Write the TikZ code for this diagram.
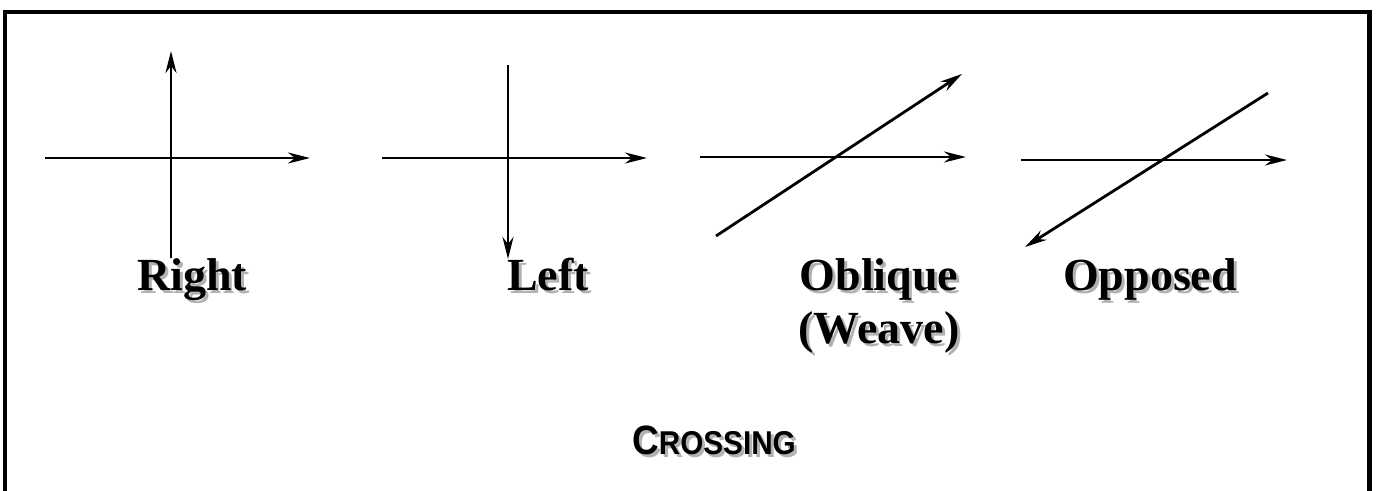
\documentclass[tikz,border=0pt]{standalone}
\usepackage{fontspec}
\setmainfont{Liberation Serif}
\setsansfont{Liberation Sans}
\usetikzlibrary{arrows.meta}
\tikzset{
  arr/.style={line width=2.8pt, -{Stealth[length=22pt,width=11pt,inset=7pt]}},
  lbl/.style={font=\fontsize{46}{53}\selectfont\bfseries, anchor=base, inner sep=0pt},
  lblsh/.style={lbl, text=black!30},
  captxt/.style={font=\sffamily\bfseries, anchor=base, inner sep=0pt},
  captxtsh/.style={captxt, text=black!30},
  frameline/.style={line width=4.5pt}
}
\newcommand{\capword}{\scalebox{0.9}[1]{{\fontsize{41}{42}\selectfont C}{\fontsize{33}{34}\selectfont ROSSING}}}
\begin{document}
\begin{tikzpicture}[x=1pt,y=-1pt]
\useasboundingbox (0,0) rectangle (1378,490);
% frame (open at bottom)
\draw[frameline] (5,500) -- (5,12) -- (1369.5,12) -- (1369.5,500);

% Right
\coordinate (r1) at (45,158); \coordinate (r2) at (310,158);
\coordinate (r3) at (171,258); \coordinate (r4) at (171,51);
\draw[arr] (r1) -- (r2);
\draw[arr] (r3) -- (r4);
% Left
\coordinate (l1) at (382,158); \coordinate (l2) at (647,158);
\coordinate (l3) at (508,65); \coordinate (l4) at (508,259);
\draw[arr] (l1) -- (l2);
\draw[arr] (l3) -- (l4);
% Oblique
\coordinate (o1) at (700,157); \coordinate (o2) at (966,157);
\coordinate (o3) at (716,236); \coordinate (o4) at (962,74);
\draw[arr] (o1) -- (o2);
\draw[arr] (o3) -- (o4);
% Opposed
\coordinate (p1) at (1021,160); \coordinate (p2) at (1287,160);
\coordinate (p3) at (1268,93); \coordinate (p4) at (1025,247);
\draw[arr] (p1) -- (p2);
\draw[arr] (p3) -- (p4);

% labels with shadow
\node[lblsh] (rightS) at (195,293) {Right};
\node[lbl] (right) at (192,290) {Right};
\node[lblsh] (leftS) at (551,293) {Left};
\node[lbl] (left) at (548,290) {Left};
\node[lblsh] (obliqueS) at (882,293) {Oblique};
\node[lbl] (oblique) at (879,290) {Oblique};
\node[lblsh] (weaveS) at (882,346) {(Weave)};
\node[lbl] (weave) at (879,343) {(Weave)};
\node[lblsh] (opposedS) at (1153,293) {Opposed};
\node[lbl] (opposed) at (1150,290) {Opposed};

\node[captxtsh] (crossingS) at (717,457) {\capword};
\node[captxt] (crossing) at (714,454) {\capword};
\end{tikzpicture}
\end{document}
